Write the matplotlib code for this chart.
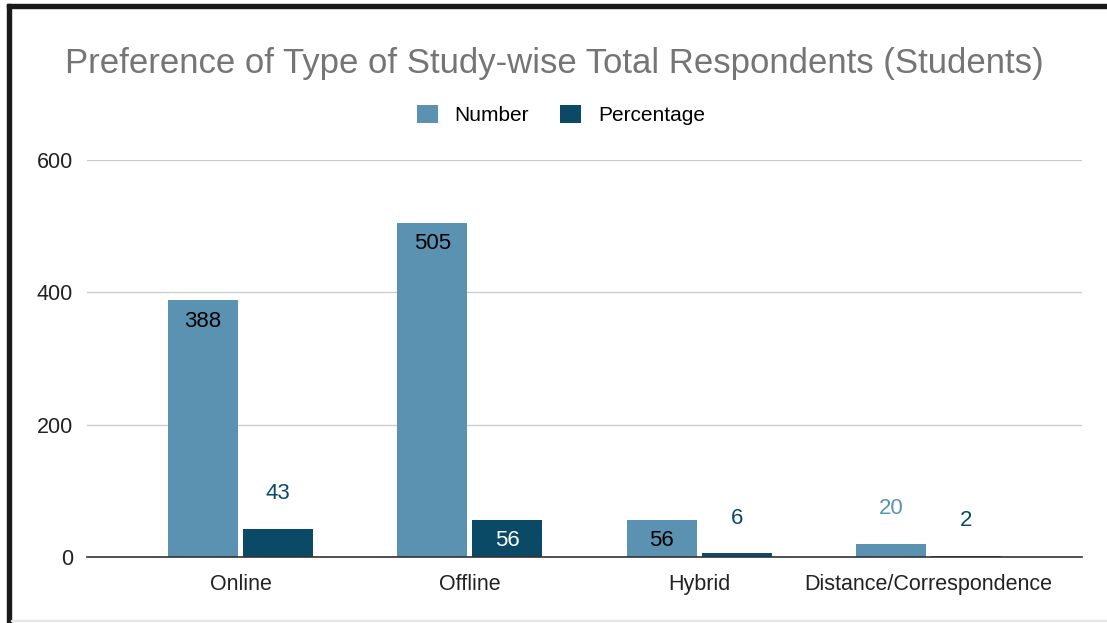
import matplotlib.pyplot as plt
import numpy as np
from matplotlib.patches import Rectangle

plt.rcParams['font.family'] = ['Liberation Sans', 'DejaVu Sans']

categories = ["Online", "Offline", "Hybrid", "Distance/Correspondence"]
number = [388, 505, 56, 20]
percentage = [43, 56, 6, 2]
yticks = [0, 200, 400, 600]

c_num = "#5b92b2"
c_pct = "#0b4a66"

fig = plt.figure(figsize=(11.07, 6.23), dpi=100)
ax = fig.add_axes([87 / 1107, 1 - 557 / 623, (1082 - 87) / 1107, (557 - 160) / 623])

x = np.arange(len(categories))
w = 0.305
gap = 0.011
b1 = ax.bar(x - w / 2 - gap, number, w, color=c_num, label="Number", zorder=3)
b2 = ax.bar(x + w / 2 + gap, percentage, w, color=c_pct, label="Percentage", zorder=3)

# labels: inside the bar when it is tall enough, else above
for bars, vals, col, incol in [(b1, number, c_num, "black"), (b2, percentage, c_pct, "white")]:
    for r, v in zip(bars, vals):
        cx = r.get_x() + r.get_width() / 2
        if v >= 50:
            ax.annotate(str(v), (cx, v), xytext=(0, -21), textcoords="offset pixels",
                        ha="center", va="center", fontsize=16, color=incol, zorder=4)
        else:
            ax.annotate(str(v), (cx, v), xytext=(0, 35), textcoords="offset pixels",
                        ha="center", va="center", fontsize=16, color=col, zorder=4)

ax.set_xlim(-0.670, 3.670)
ax.set_ylim(0, 600)
ax.set_yticks(yticks)
ax.set_xticks(x)
ax.set_xticklabels(categories)
ax.tick_params(axis="both", length=0, labelsize=15.5, colors="#222222")
ax.tick_params(axis="x", pad=12)
ax.tick_params(axis="y", pad=10)
ax.grid(axis="y", color="#cccccc", linewidth=1, zorder=0)
for s in ["top", "right", "left"]:
    ax.spines[s].set_visible(False)
ax.spines["bottom"].set_color("#333333")
ax.spines["bottom"].set_linewidth(1.2)
ax.spines["bottom"].set_zorder(5)

fig.text(554 / 1107, 1 - 63 / 623, "Preference of Type of Study-wise Total Respondents (Students)",
         ha="center", va="center", fontsize=25, color="#757575")

leg = fig.legend(loc="center", bbox_to_anchor=(561 / 1107, 1 - 115 / 623), ncol=2, frameon=False,
                 fontsize=15, handlelength=1.0, handleheight=1.0, columnspacing=1.5, handletextpad=0.8)

# frame of the screenshot (top and left edges, faint bottom line)
fig.patches.append(Rectangle((7 / 1107, 1 - 8 / 623), 1, 4 / 623, transform=fig.transFigure,
                             color="#1a1a1a", zorder=10))
fig.patches.append(Rectangle((7 / 1107, 0), 4 / 1107, 1 - 4 / 623, transform=fig.transFigure,
                             color="#1a1a1a", zorder=10))
fig.patches.append(Rectangle((11 / 1107, 2 / 623), 1, 1 / 623, transform=fig.transFigure,
                             color="#e6e6e6", zorder=10))

fig.savefig("out.png", dpi=100)
